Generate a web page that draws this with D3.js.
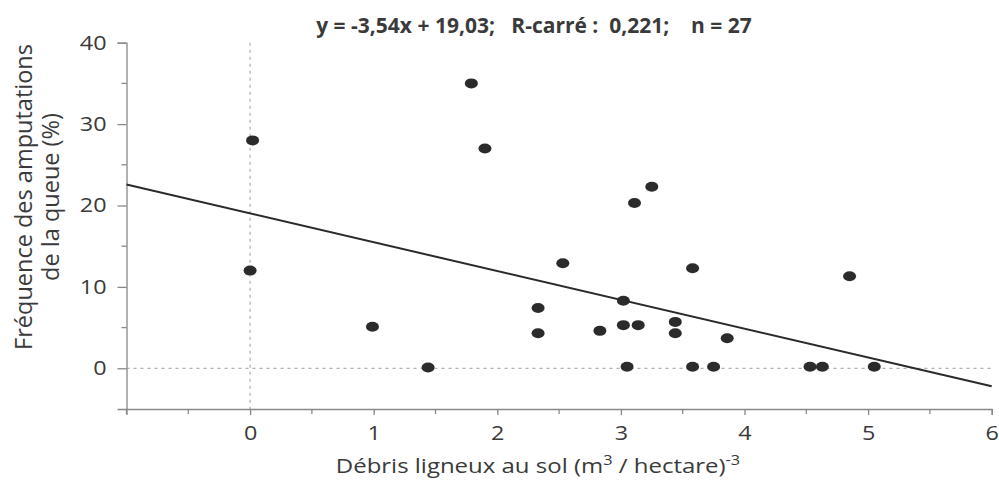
<!DOCTYPE html>
<html>
<head>
<meta charset="utf-8">
<script src="https://cdn.jsdelivr.net/npm/d3@7"></script>
<style>
  body { margin: 0; background: #fff; }
  text { font-family: "Open Sans", "DejaVu Sans", sans-serif; fill: #3a3a3a; }
</style>
</head>
<body>
<div id="chart"></div>
<script>
"use strict"

// debris values (x) and tail amputation frequency (y)
const debris = [0.02, 0.0, 0.99, 1.44, 1.79, 1.90, 2.53, 2.33, 2.33, 2.83,
                3.02, 3.02, 3.14, 3.05, 3.11, 3.25, 3.44, 3.44, 3.58, 3.58,
                3.75, 3.86, 4.53, 4.63, 4.85, 5.05];
const amputations = [28.0, 12.0, 5.1, 0.1, 35.0, 27.0, 12.9, 7.4, 4.3, 4.6,
                     8.3, 5.3, 5.3, 0.2, 20.3, 22.3, 5.7, 4.3, 12.3, 0.2,
                     0.2, 3.7, 0.2, 0.2, 11.3, 0.2];
const slope = -3.54;
const intercept = 19.03;
const xTicks = [0, 1, 2, 3, 4, 5, 6];
const xMinor = [-1, -0.5, 0.5, 1.5, 2.5, 3.5, 4.5, 5.5];
const yTicks = [0, 10, 20, 30, 40];
const yMinor = [5, 15, 25, 35];
const title = "y = -3,54x + 19,03;   R-carré :  0,221;    n = 27";

const width = 999, height = 480;
const stretch = 1.17;   // the original looks stretched sideways
const svg = d3.select("#chart").append("svg")
  .attr("width", width).attr("height", height);

const x = d3.scaleLinear().domain([-1, 6]).range([126.5, 991.7]);
const y = d3.scaleLinear().domain([-5, 40]).range([409, 42.7]);

// reference lines at 0
svg.append("line")
  .attr("x1", x(-1)).attr("x2", x(6))
  .attr("y1", y(0)).attr("y2", y(0))
  .attr("stroke", "#b0b0b0").attr("stroke-width", 1.2)
  .attr("stroke-dasharray", "3,4");
svg.append("line")
  .attr("x1", x(0)).attr("x2", x(0))
  .attr("y1", y(40)).attr("y2", y(-5))
  .attr("stroke", "#b0b0b0").attr("stroke-width", 1.2)
  .attr("stroke-dasharray", "3,4");

// x axis
const xAxis = svg.append("g")
  .attr("transform", `translate(0,${y(-5)})`)
  .call(d3.axisBottom(x).tickValues(xTicks).tickSize(6).tickPadding(11)
        .tickFormat(d3.format("d")));
xAxis.append("g").selectAll("line")
  .data(xMinor)
  .enter()
    .append("line")
      .attr("x1", (d) => x(d)).attr("x2", (d) => x(d))
      .attr("y1", 0).attr("y2", 5);

// y axis
const yAxis = svg.append("g")
  .attr("transform", `translate(${x(-1)},0)`)
  .call(d3.axisLeft(y).tickValues(yTicks).tickSize(9).tickPadding(8)
        .tickFormat(d3.format("d")));
yAxis.append("g").selectAll("line")
  .data(yMinor)
  .enter()
    .append("line")
      .attr("y1", (d) => y(d)).attr("y2", (d) => y(d))
      .attr("x1", 0).attr("x2", -5);

for (const ax of [xAxis, yAxis]) {
  ax.select(".domain").attr("stroke", "#888").attr("stroke-width", 1.3);
  ax.selectAll("line").attr("stroke", "#888").attr("stroke-width", 1.3);
  ax.selectAll(".tick text")
    .attr("fill", "#3a3a3a")
    .attr("transform", `scale(${stretch},1)`)
    .style("font-size", "20px")
    .style("font-family", '"Open Sans", "DejaVu Sans", sans-serif');
}

// regression line
svg.append("line")
  .attr("x1", x(-1)).attr("y1", y(slope * -1 + intercept))
  .attr("x2", x(6)).attr("y2", y(slope * 6 + intercept))
  .attr("stroke", "#2a2a2a").attr("stroke-width", 2);

// points
svg.append("g").selectAll("ellipse")
  .data(debris)
  .enter()
    .append("ellipse")
      .attr("cx", (d) => x(d))
      .attr("cy", (d, i) => y(amputations[i]))
      .attr("rx", 6.5).attr("ry", 5)
      .attr("fill", "#2b2b2b");

// title
svg.append("text")
  .attr("transform", "translate(534,33)")
  .attr("text-anchor", "middle")
  .style("font-size", "21px").style("font-weight", "bold")
  .style("white-space", "pre")
  .text(title);

// x label
const xl = svg.append("text")
  .attr("transform", `translate(538,473) scale(${stretch},1)`)
  .attr("text-anchor", "middle")
  .style("font-size", "20.5px");
xl.append("tspan").text("Débris ligneux au sol (m");
xl.append("tspan").attr("dy", -8).style("font-size", "14px").text("3");
xl.append("tspan").attr("dy", 8).text(" / hectare)");
xl.append("tspan").attr("dy", -8).style("font-size", "14px").text("-3");

// y label
const yl = svg.append("text")
  .attr("transform", "translate(32,197) rotate(-90)")
  .attr("text-anchor", "middle")
  .style("font-size", "23.5px");
yl.append("tspan").attr("x", 0).attr("dy", 0).text("Fréquence des amputations");
yl.append("tspan").attr("x", 0).attr("dy", 27).text("de la queue (%)");
</script>
</body>
</html>
